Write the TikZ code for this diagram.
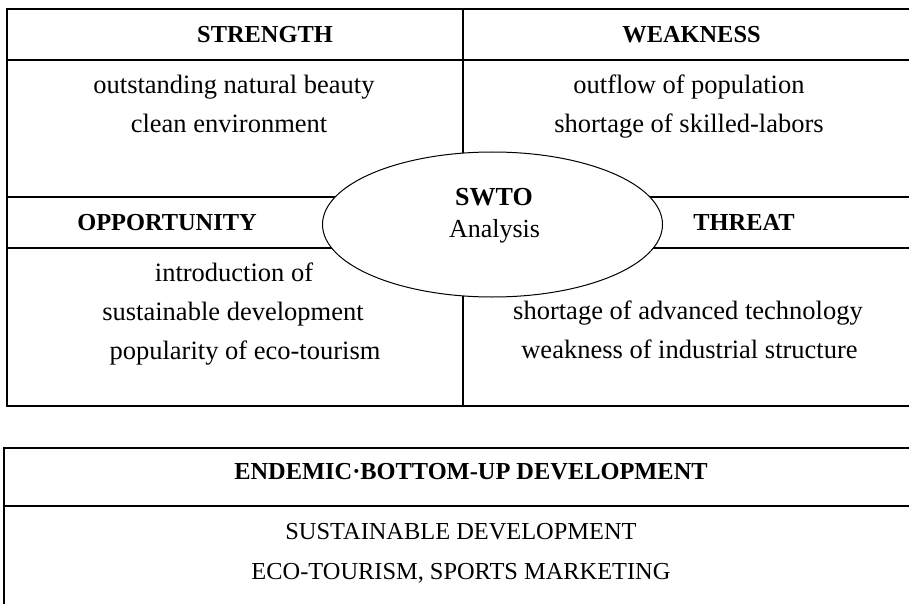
\documentclass[tikz,border=0pt]{standalone}
\usepackage{fontspec}
\setmainfont{Liberation Serif}
\usetikzlibrary{shapes.geometric}

\tikzset{
  rule/.style={line width=2pt, line cap=rect},
  body/.style={anchor=base, inner sep=0pt, font=\fontsize{26.5}{30}\selectfont},
  caps/.style={anchor=base, inner sep=0pt, font=\fontsize{24.4}{28}\selectfont},
  head/.style={anchor=base, inner sep=0pt, font=\fontsize{24.4}{28}\selectfont\bfseries},
  hub/.style={ellipse, draw, line width=1pt, fill=white,
    minimum width=340pt, minimum height=145pt, inner sep=0pt},
  hubtext/.style={anchor=base, inner sep=0pt, font=\fontsize{26}{30}\selectfont},
}

\begin{document}
\begin{tikzpicture}[x=1pt, y=-1pt]
  \useasboundingbox (0,0) rectangle (909,604);
  \clip (0,0) rectangle (909,604);

  % SWOT grid
  \coordinate (tl) at (7,9);
  \coordinate (tm) at (463,9);
  \coordinate (tr) at (930,9);
  \coordinate (bl) at (7,406);
  \coordinate (bm) at (463,406);
  \coordinate (br) at (930,406);
  \draw[rule] (tr) -- (tl) -- (bl) -- (br);
  \draw[rule] (tm) -- (bm);
  \draw[rule] (7,60) -- (930,60);
  \draw[rule] (7,197) -- (930,197);
  \draw[rule] (7,248) -- (930,248);

  % central ellipse
  \node[hub] (hub) at (492.5,224.5) {};
  \node[hubtext, font=\fontsize{26}{30}\selectfont\bfseries] (swto) at (494,205) {SWTO};
  \node[hubtext] (analysis) at (494.5,237) {Analysis};

  % quadrant headings
  \node[head] (strength) at (265,43) {STRENGTH};
  \node[head] (weakness) at (691.5,43) {WEAKNESS};
  \node[head] (opportunity) at (167,230) {OPPORTUNITY};
  \node[head] (threat) at (744,230) {THREAT};

  % quadrant contents
  \node[body] (s1) at (234,94) {outstanding natural beauty};
  \node[body] (s2) at (229,133) {clean environment};
  \node[body] (w1) at (689,94) {outflow of population};
  \node[body] (w2) at (689,133) {shortage of skilled-labors};
  \node[body] (o1) at (234,281) {introduction of};
  \node[body] (o2) at (233,320) {sustainable development};
  \node[body] (o3) at (245,359) {popularity of eco-tourism};
  \node[body] (t1) at (688,319) {shortage of advanced technology};
  \node[body] (t2) at (689.5,358) {weakness of industrial structure};

  % strategy table
  \draw[rule] (930,447.5) -- (4,447.5) -- (4,620);
  \draw[rule] (4,505.5) -- (930,505.5);
  \node[head] (strategy) at (471,479) {ENDEMIC·BOTTOM-UP DEVELOPMENT};
  \node[caps] (g1) at (461,539) {SUSTAINABLE DEVELOPMENT};
  \node[caps] (g2) at (461,579) {ECO-TOURISM, SPORTS MARKETING};
\end{tikzpicture}
\end{document}
